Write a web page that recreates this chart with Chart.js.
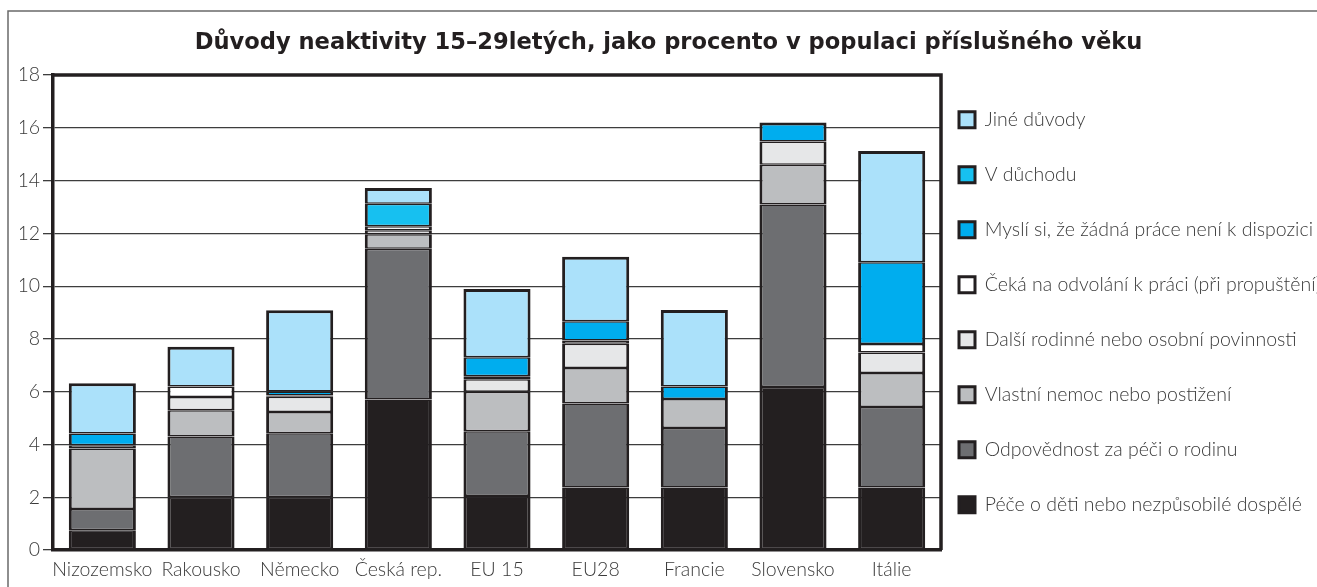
<!DOCTYPE html>
<html lang="cs">
<head>
<meta charset="utf-8">
<title>Důvody neaktivity 15–29letých</title>
<script src="https://cdn.jsdelivr.net/npm/chart.js@4/dist/chart.umd.min.js"></script>
<style>
    html, body { margin: 0; padding: 0; background: #fff; overflow: hidden; }
    canvas { display: block; }
</style>
</head>
<body>
<canvas id="inactivityChart" width="1317" height="587"></canvas>
<script>
// Data (percent of the age group), stacked bottom -> top
const categories = ['Nizozemsko', 'Rakousko', 'Německo', 'Česká rep.', 'EU 15', 'EU28', 'Francie', 'Slovensko', 'Itálie'];

const peceODeti     = [0.75, 2.0, 2.0, 5.7, 2.05, 2.37, 2.37, 6.18, 2.37];
const odpovednost   = [0.8, 2.3, 2.43, 5.72, 2.45, 3.18, 2.25, 6.92, 3.05];
const vlastniNemoc  = [2.3, 1.0, 0.8, 0.55, 1.5, 1.35, 1.1, 1.5, 1.29];
const dalsiRodinne  = [0.12, 0.5, 0.58, 0.15, 0.47, 0.92, 0, 0.88, 0.78];
const cekaNaOdvolani = [0, 0.4, 0.05, 0.15, 0.12, 0.12, 0, 0, 0.32];
const mysliSi       = [0.45, 0, 0.15, 0, 0.72, 0.73, 0.48, 0.72, 3.1];
const vDuchodu      = [0, 0, 0, 0.85, 0, 0, 0, 0, 0];
const jineDuvody    = [1.9, 1.5, 3.08, 0.6, 2.58, 2.45, 2.9, 0, 4.21];

const yTicks = [0, 2, 4, 6, 8, 10, 12, 14, 16, 18];

const seriesNames = [
    'Péče o děti nebo nezpůsobilé dospělé',
    'Odpovědnost za péči o rodinu',
    'Vlastní nemoc nebo postižení',
    'Další rodinné nebo osobní povinnosti',
    'Čeká na odvolání k práci (při propuštění)',
    'Myslí si, že žádná práce není k dispozici',
    'V důchodu',
    'Jiné důvody'
];
const seriesValues = [peceODeti, odpovednost, vlastniNemoc, dalsiRodinne, cekaNaOdvolani, mysliSi, vDuchodu, jineDuvody];
const seriesColors = ['#231f20', '#6d6e71', '#bcbec0', '#e6e7e8', '#ffffff', '#00adee', '#17c0f0', '#abe1fa'];

const ink = '#231f20';
const textFont = 'Lato, "Noto Sans", sans-serif';
const titleFont = '"DejaVu Sans", sans-serif';
const textSize = 19.5;

// frame around the plot area and the thin outer box
const framePlugin = {
    id: 'frame',
    beforeDraw(chart) {
        const c = chart.ctx;
        c.save();
        c.strokeStyle = '#6a6a6a';
        c.lineWidth = 1.5;
        c.beginPath();
        c.moveTo(8, chart.height);
        c.lineTo(8, 11);
        c.lineTo(chart.width, 11);
        c.stroke();
        c.restore();
    },
    afterDatasetsDraw(chart) {
        const a = chart.chartArea;
        const c = chart.ctx;
        c.save();
        c.strokeStyle = ink;
        c.lineWidth = 3.5;
        c.beginPath();
        c.moveTo(a.left, a.top);
        c.lineTo(a.right, a.top);
        c.lineTo(a.right, a.bottom);
        c.stroke();
        c.restore();
    }
};

// thin top/bottom edges so stacked segments share a single separator line,
// but the topmost segment of a bar keeps a full outline
function segmentBorder(c) {
    const i = c.dataIndex;
    const d = c.datasetIndex;
    const isTop = !seriesValues.slice(d + 1).some(s => s[i] > 0);
    return { left: 3, right: 3, bottom: 1.5, top: isTop ? 3 : 1.5 };
}

const datasets = seriesNames.map((name, i) => ({
    label: name,
    data: seriesValues[i],
    backgroundColor: seriesColors[i],
    borderColor: ink,
    borderWidth: segmentBorder,
    borderSkipped: false,
    categoryPercentage: 1.0,
    barPercentage: 0.68
}));

const ctx = document.getElementById('inactivityChart').getContext('2d');

const chart = new Chart(ctx, {
    type: 'bar',
    data: {
        labels: categories,
        datasets: datasets
    },
    options: {
        responsive: false,
        animation: false,
        devicePixelRatio: 1,
        layout: {
            padding: { left: 20, right: 0, top: 0, bottom: 0 }
        },
        scales: {
            x: {
                stacked: true,
                afterFit(scale) {
                    scale.height = 37;
                },
                grid: { display: false, drawTicks: false, tickLength: 0 },
                border: { display: true, color: ink, width: 3.5 },
                ticks: {
                    color: '#3a3a3a',
                    padding: 8,
                    maxRotation: 0,
                    minRotation: 0,
                    autoSkip: false,
                    font: { family: textFont, size: textSize, weight: 300, lineHeight: 1.2 }
                }
            },
            y: {
                stacked: true,
                min: 0,
                max: 18,
                afterBuildTicks(scale) {
                    scale.ticks = yTicks.map(v => ({ value: v }));
                },
                afterFit(scale) {
                    scale.width = 33;
                },
                grid: {
                    color: '#3d3d3d',
                    lineWidth: 1.3,
                    drawTicks: true,
                    tickLength: 10,
                    tickColor: '#3d3d3d'
                },
                border: { display: true, color: ink, width: 3.5 },
                ticks: {
                    color: '#3a3a3a',
                    padding: 3,
                    font: { family: textFont, size: textSize, weight: 300 }
                }
            }
        },
        plugins: {
            title: {
                display: true,
                text: 'Důvody neaktivity 15–29letých, jako procento v populaci příslušného věku',
                color: ink,
                font: { family: titleFont, size: 22.6, weight: 'bold', lineHeight: 1.2 },
                padding: { top: 30, bottom: 18 }
            },
            legend: {
                position: 'right',
                align: 'end',
                fullSize: false,
                reverse: true,
                maxWidth: 376,
                labels: {
                    color: '#3a3a3a',
                    boxWidth: 16,
                    boxHeight: 16,
                    padding: 18,
                    font: { family: textFont, size: textSize, weight: 300, lineHeight: 37 / textSize },
                    generateLabels(chart) {
                        // one-line arrays so the font lineHeight sets the row spacing
                        const items = Chart.defaults.plugins.legend.labels.generateLabels(chart);
                        items.forEach(item => {
                            item.text = [item.text];
                            item.lineWidth = 3;
                        });
                        return items;
                    }
                }
            },
            tooltip: { enabled: false }
        }
    },
    plugins: [framePlugin]
});
</script>
</body>
</html>
